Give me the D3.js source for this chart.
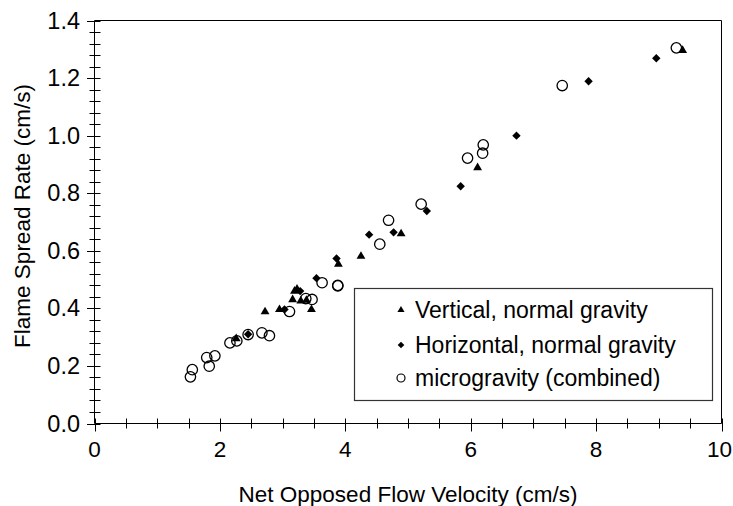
<!DOCTYPE html>
<html>
<head>
<meta charset="utf-8">
<script src="https://cdn.jsdelivr.net/npm/d3@7"></script>
<style>
  html, body { margin: 0; padding: 0; background: #fff; }
  svg { display: block; font-family: Arial, "Liberation Sans", Helvetica, sans-serif; }
</style>
</head>
<body>
<svg id="chart" width="733" height="506"></svg>
<script>
// Flame spread rate vs. net opposed flow velocity, three test series
const verticalX = [2.26, 2.72, 2.95, 3.16, 3.19, 3.23, 3.29, 3.38, 3.46, 3.89, 4.25, 4.89, 6.11, 9.38];
const verticalY = [0.295, 0.388, 0.396, 0.430, 0.460, 0.467, 0.426, 0.428, 0.396, 0.553, 0.581, 0.659, 0.889, 1.296];

const horizontalX = [2.45, 3.03, 3.28, 3.54, 3.86, 4.38, 4.77, 5.30, 5.84, 6.73, 7.88, 8.96];
const horizontalY = [0.310, 0.396, 0.460, 0.505, 0.573, 0.656, 0.664, 0.738, 0.824, 1.000, 1.189, 1.269];

const microX = [1.53, 1.56, 1.79, 1.83, 1.92, 2.16, 2.27, 2.45, 2.67, 2.79, 3.11, 3.37, 3.47, 3.63, 3.88, 3.88, 4.55, 4.69, 5.21, 5.95, 6.19, 6.20, 7.46, 9.28];
const microY = [0.162, 0.187, 0.229, 0.199, 0.235, 0.280, 0.287, 0.309, 0.315, 0.305, 0.389, 0.434, 0.431, 0.489, 0.478, 0.480, 0.623, 0.706, 0.762, 0.922, 0.939, 0.968, 1.174, 1.305];

const xTicks = [0, 2, 4, 6, 8, 10];
const yTicks = [0.0, 0.2, 0.4, 0.6, 0.8, 1.0, 1.2, 1.4];
const legendLabels = ["Vertical, normal gravity", "Horizontal, normal gravity", "microgravity (combined)"];
const xTitle = "Net Opposed Flow Velocity (cm/s)";
const yTitle = "Flame Spread Rate (cm/s)";

const W = 733;
const svg = d3.select("#chart");
const plot = { left: 94.5, right: 721.5, top: 20.5, bottom: 423.5 };

const x = d3.scaleLinear().domain([0, 10]).range([plot.left, plot.right]);
const y = d3.scaleLinear().domain([0, 1.4]).range([plot.bottom, plot.top]);

const X_TICK_FONT = 22.5;
const Y_TICK_FONT = 23.5;
const TITLE_FONT = 22.5;
const LEGEND_FONT = 23;

// Frame: top and right edges
svg.append("line").attr("x1", plot.left).attr("x2", plot.right).attr("y1", plot.top).attr("y2", plot.top)
  .attr("stroke", "#000").attr("stroke-width", 1);
svg.append("line").attr("x1", plot.right).attr("x2", plot.right).attr("y1", plot.top).attr("y2", plot.bottom)
  .attr("stroke", "#000").attr("stroke-width", 1);

// X axis: minor ticks cross the line, labelled ticks extend further down
const xAxis = svg.append("g");
xAxis.append("line").attr("x1", plot.left).attr("x2", plot.right).attr("y1", plot.bottom).attr("y2", plot.bottom)
  .attr("stroke", "#000");
const xMinor = d3.range(0, 10.001, 0.5);
xAxis.selectAll("line.minor").data(xMinor).join("line")
  .attr("class", "minor")
  .attr("x1", d => Math.round(x(d)) + 0.5).attr("x2", d => Math.round(x(d)) + 0.5)
  .attr("y1", plot.bottom - 5).attr("y2", d => xTicks.includes(d) ? plot.bottom + 8 : plot.bottom + 5)
  .attr("stroke", "#000");
xAxis.selectAll("text").data(xTicks).join("text")
  .attr("x", d => x(d)).attr("y", 457)
  .attr("text-anchor", "middle").attr("font-size", X_TICK_FONT).attr("fill", "#000")
  .text(d => d3.format("d")(d))
  .each(function () {
    // keep the outermost label inside the canvas
    const b = this.getBBox();
    const over = b.x + b.width - (W - 1);
    if (over > 0) d3.select(this).attr("x", +d3.select(this).attr("x") - over);
  });

// Y axis
const yAxis = svg.append("g");
yAxis.append("line").attr("x1", plot.left).attr("x2", plot.left).attr("y1", plot.top).attr("y2", plot.bottom)
  .attr("stroke", "#000");
const yMinor = d3.range(0, 35).map(i => +(i * 0.04).toFixed(2)).concat([1.4]);
yAxis.selectAll("line.minor").data(yMinor).join("line")
  .attr("class", "minor")
  .attr("y1", d => Math.round(y(d)) + 0.5).attr("y2", d => Math.round(y(d)) + 0.5)
  .attr("x1", d => yTicks.some(t => Math.abs(t - d) < 1e-6) ? plot.left - 7.5 : plot.left - 5)
  .attr("x2", plot.left + 6)
  .attr("stroke", "#000");
yAxis.selectAll("text").data(yTicks).join("text")
  .attr("x", 80).attr("y", d => y(d) + 8)
  .attr("text-anchor", "end").attr("font-size", Y_TICK_FONT).attr("fill", "#000")
  .text(d => d3.format(".1f")(d));

// Axis titles
svg.append("text").attr("x", 408).attr("y", 502).attr("text-anchor", "middle")
  .attr("font-size", TITLE_FONT).attr("fill", "#000").text(xTitle);
svg.append("text").attr("transform", "translate(30,216) rotate(-90)").attr("text-anchor", "middle")
  .attr("font-size", TITLE_FONT).attr("fill", "#000").text(yTitle);

// Marker shapes
const triPath = d3.symbol().type(d3.symbolTriangle).size(34)();
const diaPath = "M0,-4.2L4.2,0L0,4.2L-4.2,0Z";
const CIRCLE_R = 5.2;

const marks = svg.append("g");
marks.selectAll("circle.micro").data(d3.range(microX.length)).join("circle")
  .attr("class", "micro")
  .attr("cx", i => x(microX[i])).attr("cy", i => y(microY[i])).attr("r", CIRCLE_R)
  .attr("fill", "none").attr("stroke", "#000").attr("stroke-width", 1.3);
marks.selectAll("path.vert").data(d3.range(verticalX.length)).join("path")
  .attr("class", "vert")
  .attr("transform", i => `translate(${x(verticalX[i])},${y(verticalY[i])})`)
  .attr("d", triPath).attr("fill", "#000");
marks.selectAll("path.horiz").data(d3.range(horizontalX.length)).join("path")
  .attr("class", "horiz")
  .attr("transform", i => `translate(${x(horizontalX[i])},${y(horizontalY[i])})`)
  .attr("d", diaPath).attr("fill", "#000");

// Legend
const legend = svg.append("g");
legend.append("rect").attr("x", 354.5).attr("y", 288.5).attr("width", 358).attr("height", 112)
  .attr("fill", "#fff").attr("stroke", "#333").attr("stroke-width", 1.2);
const rowY = [310, 345, 378];
legend.append("path").attr("transform", `translate(401,${rowY[0]})`).attr("d", d3.symbol().type(d3.symbolTriangle).size(22)()).attr("fill", "#000");
legend.append("path").attr("transform", `translate(401,${rowY[1]})`).attr("d", "M0,-3.3L3.3,0L0,3.3L-3.3,0Z").attr("fill", "#000");
legend.append("circle").attr("cx", 401).attr("cy", rowY[2]).attr("r", 4).attr("fill", "none").attr("stroke", "#000").attr("stroke-width", 1.2);
legend.selectAll("text").data(legendLabels).join("text")
  .attr("x", 415).attr("y", (d, i) => rowY[i] + 8)
  .attr("font-size", LEGEND_FONT).attr("fill", "#000")
  .text(d => d);
</script>
</body>
</html>
